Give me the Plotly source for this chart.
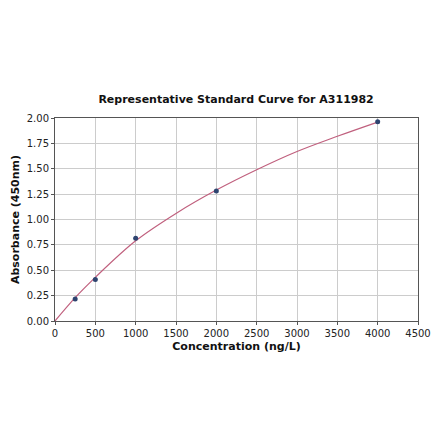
import plotly.graph_objects as go

# standard points
conc = [250, 500, 1000, 2000, 4000]
absorbance = [0.216, 0.41, 0.816, 1.282, 1.962]

# fitted curve
curve_x = [0, 250, 500, 1000, 1500, 2000, 2500, 3000, 3500, 4000]
curve_y = [0.0, 0.23, 0.43, 0.79, 1.06, 1.29, 1.49, 1.67, 1.82, 1.96]

x_ticks = [0, 500, 1000, 1500, 2000, 2500, 3000, 3500, 4000, 4500]
y_ticks = [0.0, 0.25, 0.5, 0.75, 1.0, 1.25, 1.5, 1.75, 2.0]

font = "DejaVu Sans"

fig = go.Figure()

fig.add_trace(go.Scatter(x=curve_x, y=curve_y,
                         mode='lines',
                         line=dict(color='#c0607e', width=1.2, shape='spline'),
                         hoverinfo='skip'))

fig.add_trace(go.Scatter(x=conc, y=absorbance,
                         mode='markers',
                         marker=dict(color='#2e4470', size=5)))

axis_common = dict(showline=True, linecolor='#555555', linewidth=1, mirror=True,
                   showgrid=True, gridcolor='#cccccc', gridwidth=1,
                   ticks='outside', ticklen=3, tickcolor='#555555',
                   tickfont=dict(family=font, size=10, color='#222222'),
                   zeroline=False, automargin=False)

# the page body adds an 8px offset, so the figure is a bit smaller than the window
fig.update_layout(width=432, height=433,
                  showlegend=False,
                  plot_bgcolor='white', paper_bgcolor='white',
                  margin=dict(l=47, r=22, t=110, b=120),
                  title=dict(text='<b>Representative Standard Curve for A311982</b>',
                             font=dict(family=font, size=11, color='#111111'),
                             x=0.528, xanchor='center', y=0.79, yanchor='middle'),
                  xaxis=dict(axis_common, range=[0, 4500], tickvals=x_ticks,
                             title=dict(text='<b>Concentration (ng/L)</b>',
                                        font=dict(family=font, size=11, color='#111111'),
                                        standoff=4)),
                  yaxis=dict(axis_common, range=[0, 2.0], tickvals=y_ticks,
                             tickformat='.2f',
                             title=dict(text='<b>Absorbance (450nm)</b>',
                                        font=dict(family=font, size=11, color='#111111'),
                                        standoff=4)))

fig.write_html("out.html")
